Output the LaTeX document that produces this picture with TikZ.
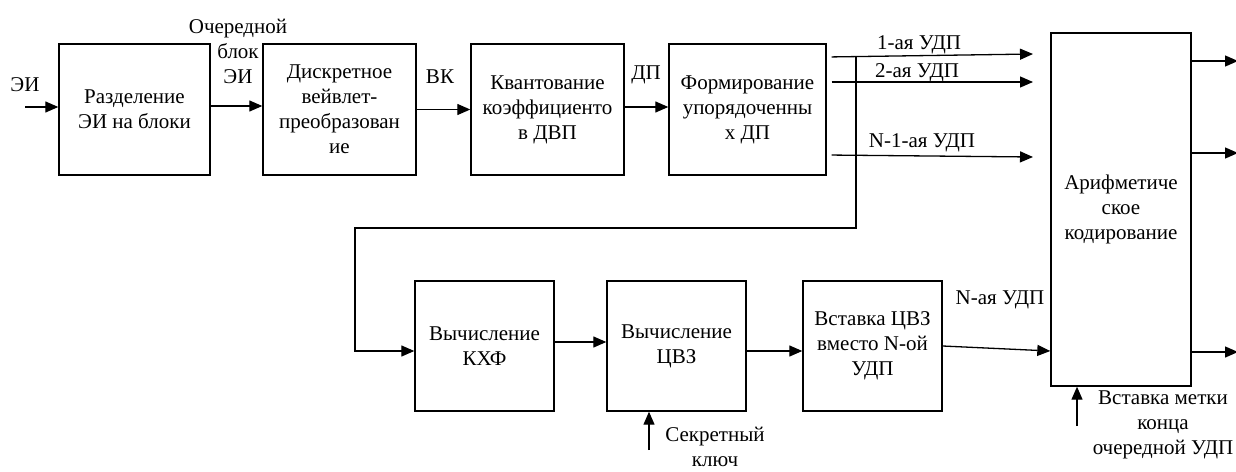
\documentclass[tikz,border=0pt]{standalone}
\usepackage{fontspec}
\setmainfont{Liberation Serif}
\usetikzlibrary{arrows.meta}
\begin{document}
\begin{tikzpicture}[x=1pt,y=-1pt,
  font=\fontsize{21pt}{25pt}\selectfont,
  blk/.style={draw,line width=1.4pt,align=center,inner sep=0pt},
  lbl/.style={align=center,inner sep=0pt},
  arr/.style={line width=1.3pt,-{Triangle[length=13pt,width=11pt]}},
  ln/.style={line width=1.3pt}]
\useasboundingbox (0,0) rectangle (1236,471);

% upper row of blocks
\node[blk,minimum width=151pt,minimum height=131pt] (b1) at (134.5,109.5) {Разделение\\ЭИ на блоки};
\node[blk,minimum width=153pt,minimum height=131pt] (b2) at (339.5,109.5) {Дискретное\\вейвлет-\\преобразован\\ие};
\node[blk,minimum width=153pt,minimum height=131pt] (b3) at (547.5,109.5) {Квантование\\коэффициенто\\в ДВП};
\node[blk,minimum width=157pt,minimum height=131pt] (b4) at (747.5,109.5) {Формирование\\упорядоченны\\х ДП};

% lower row of blocks
\node[blk,minimum width=139pt,minimum height=130pt] (b5) at (484.5,346) {Вычисление\\КХФ};
\node[blk,minimum width=139pt,minimum height=130pt] (b6) at (676.5,346) {Вычисление\\ЦВЗ};
\node[blk,minimum width=139pt,minimum height=130pt] (b7) at (872.5,346) {Вставка ЦВЗ\\вместо N-ой\\УДП};

% arithmetic coder
\node[blk,minimum width=140pt,minimum height=353pt] (ac) at (1121,209.5) {Арифметиче\\ское\\кодирование};

% free ends
\coordinate (src) at (25,107);
\coordinate (e1) at (1033,54);
\coordinate (e2) at (1033,82);
\coordinate (e3) at (1033,157);
\coordinate (s1) at (0,57);
\coordinate (s2) at (0,82);
\coordinate (s3) at (0,155);
\coordinate (tap) at (856,57);
\coordinate (turn) at (355,228);
\coordinate (key) at (649,450);
\coordinate (mark) at (1077,426);
\coordinate (o1) at (1238,61);
\coordinate (o2) at (1238,153);
\coordinate (o3) at (1238,352);

% upper chain
\draw[arr] (src) -- (src -| b1.west);
\draw[arr] ([yshift=3.5pt]b1.east) -- ([yshift=3.5pt]b2.west);
\draw[arr] (b2.east) -- (b3.west);
\draw[arr] ([yshift=2.5pt]b3.east) -- ([yshift=2.5pt]b4.west);

% ordered subbands to the coder
\draw[arr,shorten <=5pt] (b4.east |- s1) -- (e1);
\draw[arr,shorten <=5pt] (b4.east |- s2) -- (e2);
\draw[arr,shorten <=5pt] (b4.east |- s3) -- (e3);

% branch of the last subband to the watermark path
\draw[arr] (tap) |- (turn) -- (turn |- 0,351) -- (b5.west |- 0,351);

% lower chain
\draw[arr] ([yshift=4pt]b5.east) -- ([yshift=4pt]b6.west);
\draw[arr] ([yshift=-5pt]b6.east) -- ([yshift=-5pt]b7.west);
\draw[arr] (b7.east) -- (ac.west |- 0,351);
\draw[arr] (key) -- (key |- b6.south);
\draw[arr] (mark) -- (mark |- ac.south);

% coder outputs
\draw[arr] (ac.east |- o1) -- (o1);
\draw[arr] (ac.east |- o2) -- (o2);
\draw[arr] (ac.east |- o3) -- (o3);

% labels
\node[lbl] (lsrc) at (25,85) {ЭИ};
\node[lbl] (lblk) at (238,51) {Очередной\\блок\\ЭИ};
\node[lbl] (lvk) at (440,77) {ВК};
\node[lbl] (ldp) at (646,75) {ДП};
\node[lbl] (l1) at (919,45) {1-ая УДП};
\node[lbl] (l2) at (917,73) {2-ая УДП};
\node[lbl] (l3) at (922,143) {N-1-ая УДП};
\node[lbl] (ln) at (1000,300) {N-ая УДП};
\node[lbl] (lkey) at (715,447) {Секретный\\ключ};
\node[lbl] (lmark) at (1163,425) {Вставка метки\\конца\\очередной УДП};
\end{tikzpicture}
\end{document}
